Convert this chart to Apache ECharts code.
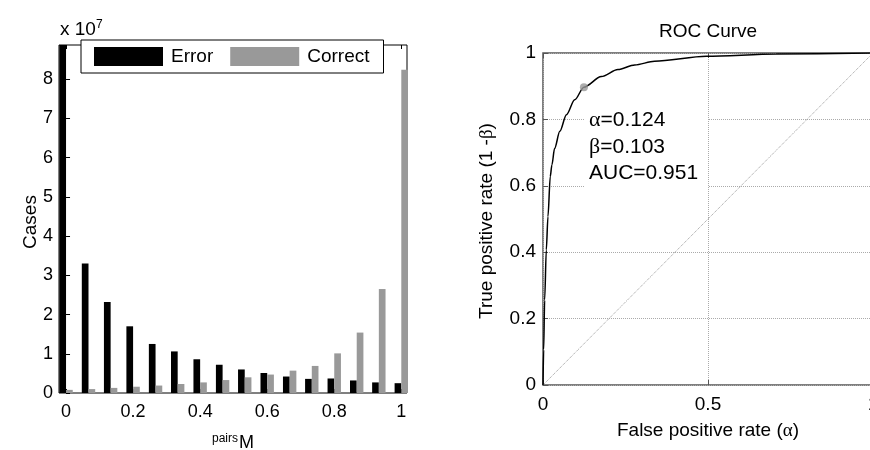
<!DOCTYPE html>
<html><head><meta charset="utf-8">
<script src="https://cdn.jsdelivr.net/npm/echarts@6/dist/echarts.min.js"></script>
<style>html,body{margin:0;padding:0;background:#fff}#c{width:870px;height:450px}</style>
</head><body><div id="c"></div>
<script>
// Histogram (values in units of 1e7 cases)
const binCenters = [0, 0.067, 0.133, 0.2, 0.267, 0.333, 0.4, 0.467, 0.533, 0.6, 0.667, 0.733, 0.8, 0.867, 0.933, 1];
const errorVals = [8.87, 3.30, 2.32, 1.70, 1.25, 1.06, 0.86, 0.72, 0.60, 0.51, 0.42, 0.36, 0.37, 0.32, 0.27, 0.25];
const correctVals = [0.08, 0.10, 0.13, 0.16, 0.19, 0.23, 0.27, 0.33, 0.40, 0.47, 0.57, 0.69, 1.01, 1.54, 2.65, 8.24];
const histXTicks = [0, 0.2, 0.4, 0.6, 0.8, 1];
// ROC curve
const rocFpr = [0, 0.002, 0.005, 0.010, 0.015, 0.022, 0.027, 0.035, 0.051, 0.071, 0.096, 0.124, 0.177, 0.227, 0.278, 0.338, 0.495, 0.707, 1];
const rocTpr = [0, 0.106, 0.256, 0.407, 0.507, 0.628, 0.663, 0.712, 0.764, 0.814, 0.859, 0.897, 0.929, 0.950, 0.964, 0.975, 0.990, 0.997, 1];
const opPoint = [0.124, 0.897];
const diagLine = [[0, 0], [1, 1]];

const FONT = 'Liberation Sans, Arial, sans-serif';
const chart = echarts.init(document.getElementById('c'), null, {renderer: 'canvas'});

const errData = binCenters.map((x, i) => [x, errorVals[i]]);
const corData = binCenters.map((x, i) => [x, correctVals[i]]);
const rocData = rocFpr.map((x, i) => [x, rocTpr[i]]);

const option = {
  animation: false,
  backgroundColor: '#fff',
  textStyle: {fontFamily: FONT},
  grid: [
    {left: 59, top: 45, width: 348, height: 348, outerBoundsMode: 'none', containLabel: false,
     show: true, borderColor: '#000', borderWidth: 1, backgroundColor: 'transparent'},
    {left: 543, top: 53, width: 330, height: 332, outerBoundsMode: 'none', containLabel: false,
     show: true, borderColor: '#555', borderWidth: 1.5, backgroundColor: 'transparent'}
  ],
  legend: {
    data: ['Error', 'Correct'],
    left: 81, top: 40,
    orient: 'horizontal',
    padding: [7, 14, 7, 13],
    itemWidth: 69, itemHeight: 19, itemGap: 17,
    backgroundColor: '#fff', borderColor: '#000', borderWidth: 1,
    icon: 'rect',
    textStyle: {fontFamily: FONT, fontSize: 19, color: '#000', padding: [0, 0, 0, 3]},
    z: 10
  },
  xAxis: [
    {gridIndex: 0, type: 'value', min: -0.021, max: 1.017,
     axisLine: {show: false}, splitLine: {show: false},
     axisTick: {inside: true, length: 4, lineStyle: {color: '#000'}, customValues: histXTicks},
     axisLabel: {customValues: histXTicks, fontSize: 18, color: '#000', fontFamily: FONT, margin: 10,
       formatter: v => String(Math.round(v * 10) / 10)}},
    {gridIndex: 0, type: 'value', position: 'top', min: -0.021, max: 1.017,
     axisLine: {show: false}, splitLine: {show: false},
     axisTick: {inside: true, length: 4, lineStyle: {color: '#000'}, customValues: histXTicks},
     axisLabel: {show: false}},
    {gridIndex: 1, type: 'value', min: 0, max: 1, interval: 0.5,
     axisLine: {show: false},
     splitLine: {show: true, lineStyle: {type: 'dotted', color: '#aaa', width: 1}},
     axisTick: {inside: true, length: 5, lineStyle: {color: '#555'}},
     axisLabel: {fontSize: 19, color: '#000', fontFamily: FONT, margin: 10}},
    {gridIndex: 1, type: 'value', position: 'top', min: 0, max: 1, interval: 0.5,
     axisLine: {show: false}, splitLine: {show: false},
     axisTick: {inside: true, length: 5, lineStyle: {color: '#555'}},
     axisLabel: {show: false}}
  ],
  yAxis: [
    {gridIndex: 0, type: 'value', min: 0, max: 8.87, interval: 1,
     axisLine: {show: false}, splitLine: {show: false},
     axisTick: {inside: true, length: 4, lineStyle: {color: '#000'}},
     axisLabel: {fontSize: 18, color: '#000', fontFamily: FONT, margin: 6, showMaxLabel: false}},
    {gridIndex: 1, type: 'value', min: 0, max: 1, interval: 0.2,
     axisLine: {show: false},
     splitLine: {show: true, lineStyle: {type: 'dotted', color: '#aaa', width: 1}},
     axisTick: {inside: true, length: 5, lineStyle: {color: '#555'}},
     axisLabel: {fontSize: 19, color: '#000', fontFamily: FONT, margin: 7,
       formatter: v => String(Math.round(v * 10) / 10)}}
  ],
  series: [
    {name: 'Error', type: 'bar', xAxisIndex: 0, yAxisIndex: 0, data: errData,
     barWidth: 6.7, barGap: '0%', itemStyle: {color: '#000'}},
    {name: 'Correct', type: 'bar', xAxisIndex: 0, yAxisIndex: 0, data: corData,
     barWidth: 6.7, barGap: '0%', itemStyle: {color: '#999'}},
    {name: 'diag', type: 'line', xAxisIndex: 2, yAxisIndex: 1, data: diagLine,
     symbol: 'none', lineStyle: {type: 'dotted', color: '#999', width: 1}, z: 2},
    {name: 'ROC', type: 'line', xAxisIndex: 2, yAxisIndex: 1, data: rocData,
     symbol: 'none', smooth: 0.3, smoothMonotone: 'x', lineStyle: {color: '#000', width: 1.5}, z: 3},
    {name: 'op', type: 'scatter', xAxisIndex: 2, yAxisIndex: 1, data: [opPoint],
     symbolSize: 8, itemStyle: {color: '#999'}, z: 4}
  ],
  graphic: [
    {type: 'text', left: 60, top: 19, z: 10, style: {
      text: 'x 10{s|7}', fill: '#000', font: '19px ' + FONT,
      rich: {s: {fontSize: 12, fontFamily: FONT, verticalAlign: 'top', padding: [0, 0, 10, 0]}}}},
    {type: 'text', x: 31, y: 222, rotation: Math.PI / 2, z: 10, style: {
      text: 'Cases', fill: '#000', font: '19px ' + FONT, align: 'center', verticalAlign: 'middle'}},
    {type: 'text', x: 233, y: 454, z: 10, style: {
      text: '{p|pairs}{m|M}', fill: '#000', align: 'center', verticalAlign: 'bottom',
      rich: {p: {fontSize: 12, fontFamily: FONT, padding: [0, 1, 9, 0]}, m: {fontSize: 18, fontFamily: FONT}}}},
    {type: 'text', x: 708, y: 32, z: 10, style: {
      text: 'ROC Curve', fill: '#000', font: '19px ' + FONT, align: 'center', verticalAlign: 'middle'}},
    {type: 'text', x: 708, y: 431, z: 10, style: {
      text: 'False positive rate ({g|α})', fill: '#000', font: '19px ' + FONT, align: 'center', verticalAlign: 'middle',
      rich: {g: {fontSize: 19, fontFamily: 'Liberation Serif, serif'}}}},
    {type: 'text', x: 487, y: 221, rotation: Math.PI / 2, z: 10, style: {
      text: 'True positive rate (1 -{g|β})', fill: '#000', font: '19px ' + FONT, align: 'center', verticalAlign: 'middle',
      rich: {g: {fontSize: 19, fontFamily: 'Liberation Serif, serif'}}}},
    {type: 'rect', shape: {x: 585, y: 101, width: 123, height: 94}, style: {fill: '#fff'}, z: 1},
    {type: 'text', x: 589, y: 147, z: 10, style: {
      text: '{g|α}=0.124\n{g|β}=0.103\nAUC=0.951', fill: '#000', font: '21px ' + FONT,
      lineHeight: 26.5, align: 'left', verticalAlign: 'middle',
      rich: {g: {fontSize: 22, fontFamily: 'Liberation Serif, serif', lineHeight: 26.5}}}}
  ]
};
chart.setOption(option);
</script></body></html>
